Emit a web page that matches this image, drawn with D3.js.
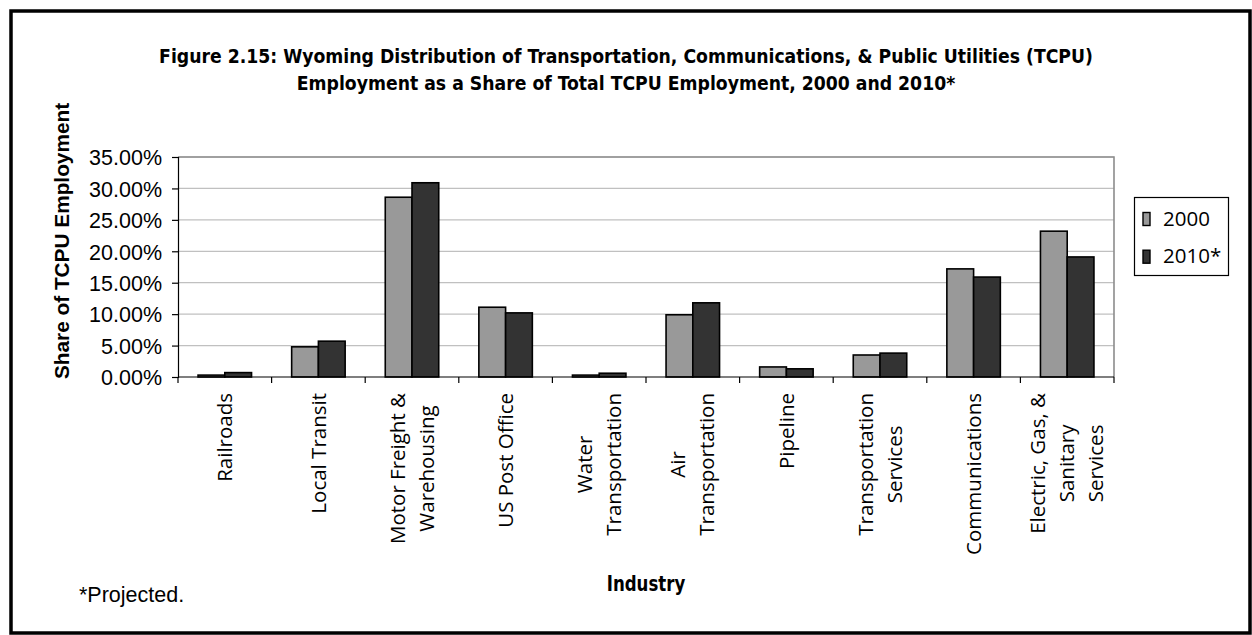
<!DOCTYPE html>
<html>
<head>
<meta charset="utf-8">
<script src="https://cdn.jsdelivr.net/npm/d3@7"></script>
<style>
  html, body { margin: 0; padding: 0; background: #fff; }
  svg { display: block; }
</style>
</head>
<body>
<svg id="chart" width="1252" height="635"></svg>
<script>
// Industry categories (each entry lists the lines of its axis label)
const categories = [
  ["Railroads"],
  ["Local Transit"],
  ["Motor Freight &", "Warehousing"],
  ["US Post Office"],
  ["Water", "Transportation"],
  ["Air", "Transportation"],
  ["Pipeline"],
  ["Transportation", "Services"],
  ["Communications"],
  ["Electric, Gas, &", "Sanitary", "Services"]
];

// Share of total TCPU employment, percent
const share2000 = [0.3, 4.8, 28.6, 11.1, 0.3, 9.9, 1.6, 3.5, 17.2, 23.2];
const share2010 = [0.7, 5.7, 30.9, 10.2, 0.6, 11.8, 1.3, 3.8, 15.9, 19.1];

const seriesNames = ["2000", "2010*"];
const seriesColors = ["#999999", "#333333"];
const yTicks = [0, 5, 10, 15, 20, 25, 30, 35];

const titleLines = [
  "Figure 2.15: Wyoming Distribution of Transportation, Communications, & Public Utilities (TCPU)",
  "Employment as a Share of Total TCPU Employment, 2000 and 2010*"
];

const svg = d3.select("#chart");
const W = 1252, H = 635;
const plot = { left: 178, right: 1114, top: 157, bottom: 377 };

svg.append("rect").attr("width", W).attr("height", H).attr("fill", "#fff");

// outer frame
svg.append("rect")
  .attr("x", 11).attr("y", 11).attr("width", 1239).attr("height", 622)
  .attr("fill", "none").attr("stroke", "#000").attr("stroke-width", 3.5);

// title
const titleFont = "'Liberation Sans Narrow', 'DejaVu Sans Condensed', 'Liberation Sans', sans-serif";
svg.append("g").selectAll("text").data(titleLines).join("text")
  .attr("x", 626).attr("y", (d, i) => 63 + i * 27)
  .attr("text-anchor", "middle")
  .attr("font-family", titleFont).attr("font-weight", "bold").attr("font-size", 19.2)
  .attr("fill", "#000")
  .text(d => d);

const x = d3.scaleBand()
  .domain(d3.range(categories.length))
  .range([plot.left, plot.right])
  .paddingInner(0).paddingOuter(0);

const y = d3.scaleLinear().domain([0, 35]).range([plot.bottom, plot.top]);

// gridlines
svg.append("g").selectAll("line").data(yTicks.filter(t => t > 0)).join("line")
  .attr("x1", plot.left).attr("x2", plot.right)
  .attr("y1", d => y(d)).attr("y2", d => y(d))
  .attr("stroke", "#c0c0c0").attr("stroke-width", 1.2);

// plot frame (top / right)
svg.append("path")
  .attr("d", `M${plot.left},${plot.top}H${plot.right}V${plot.bottom}`)
  .attr("fill", "none").attr("stroke", "#8c8c8c").attr("stroke-width", 1.6);

// bars
const barW = x.bandwidth() / 3.5;
const series = [share2000, share2010];
series.forEach((vals, s) => {
  svg.append("g").selectAll("rect").data(vals).join("rect")
    .attr("x", (d, i) => x(i) + 0.75 * barW + s * barW)
    .attr("y", d => y(d))
    .attr("width", barW)
    .attr("height", d => y(0) - y(d))
    .attr("fill", seriesColors[s])
    .attr("stroke", "#000").attr("stroke-width", 1.6);
});

// y axis
const yAxis = d3.axisLeft(y).tickValues(yTicks)
  .tickFormat(d => d3.format(".2f")(d) + "%")
  .tickSize(6).tickPadding(10);
const gy = svg.append("g").attr("transform", `translate(${plot.left},0)`).call(yAxis);
gy.select(".domain").attr("stroke", "#000").attr("stroke-width", 1.2);
gy.selectAll(".tick line").attr("stroke", "#000").attr("stroke-width", 1.2);
gy.selectAll(".tick text")
  .attr("font-family", "'Liberation Sans', Arial, sans-serif")
  .attr("font-size", 21.5).attr("fill", "#000").attr("dy", "0.36em");

// x axis line and category boundary ticks
svg.append("line")
  .attr("x1", plot.left).attr("x2", plot.right)
  .attr("y1", plot.bottom).attr("y2", plot.bottom)
  .attr("stroke", "#000").attr("stroke-width", 1.2);
const bounds = d3.range(categories.length + 1).map(i => plot.left + i * x.step());
svg.append("g").selectAll("line").data(bounds).join("line")
  .attr("x1", d => d).attr("x2", d => d)
  .attr("y1", plot.bottom).attr("y2", plot.bottom + 6)
  .attr("stroke", "#000").attr("stroke-width", 1.2);

// category labels, rotated, lines centred on each other and hung from the axis
const labelFont = "'Open Sans', 'Noto Sans', sans-serif";
const labelSize = 20.5;
const lineGap = 29;
const labelTop = 393;
categories.forEach((lines, i) => {
  const cx = x(i) + x.bandwidth() / 2;
  const g = svg.append("g");
  const texts = g.selectAll("text").data(lines).join("text")
    .attr("text-anchor", "middle")
    .attr("font-family", labelFont).attr("font-size", labelSize).attr("fill", "#000")
    .text(d => d);
  let maxLen = 0;
  texts.each(function () { maxLen = Math.max(maxLen, this.getComputedTextLength()); });
  const cy = labelTop + maxLen / 2;
  const n = lines.length;
  texts.attr("transform", (d, j) => {
    const lx = cx + (j - (n - 1) / 2) * lineGap;
    return `translate(${lx},${cy}) rotate(-90)`;
  }).attr("dy", "0.35em");
});

// axis titles
svg.append("text")
  .attr("transform", `translate(69,241) rotate(-90)`)
  .attr("text-anchor", "middle")
  .attr("font-family", "'Liberation Sans', Arial, sans-serif")
  .attr("font-weight", "bold").attr("font-size", 20.8)
  .attr("fill", "#000")
  .text("Share of TCPU Employment");

svg.append("text")
  .attr("transform", `translate(${(plot.left + plot.right) / 2},591) scale(0.9,1)`)
  .attr("text-anchor", "middle")
  .attr("font-family", titleFont).attr("font-weight", "bold").attr("font-size", 20.5)
  .attr("fill", "#000")
  .text("Industry");

// footnote
svg.append("text")
  .attr("x", 79).attr("y", 602)
  .attr("font-family", "'Liberation Sans', Arial, sans-serif")
  .attr("font-size", 21.5).attr("fill", "#000")
  .text("*Projected.");

// legend
const legend = svg.append("g");
legend.append("rect")
  .attr("x", 1134.5).attr("y", 197.5).attr("width", 94).attr("height", 78)
  .attr("fill", "#fff").attr("stroke", "#000").attr("stroke-width", 1.2);
seriesNames.forEach((name, s) => {
  const by = 225.5 + s * 37.7;
  legend.append("rect")
    .attr("x", 1143).attr("y", by - 13).attr("width", 7).attr("height", 13)
    .attr("fill", seriesColors[s]).attr("stroke", "#000").attr("stroke-width", 1.4);
  legend.append("text")
    .attr("x", 1163).attr("y", by)
    .attr("font-family", labelFont).attr("font-size", 20.5).attr("fill", "#000")
    .text(name);
});
</script>
</body>
</html>
